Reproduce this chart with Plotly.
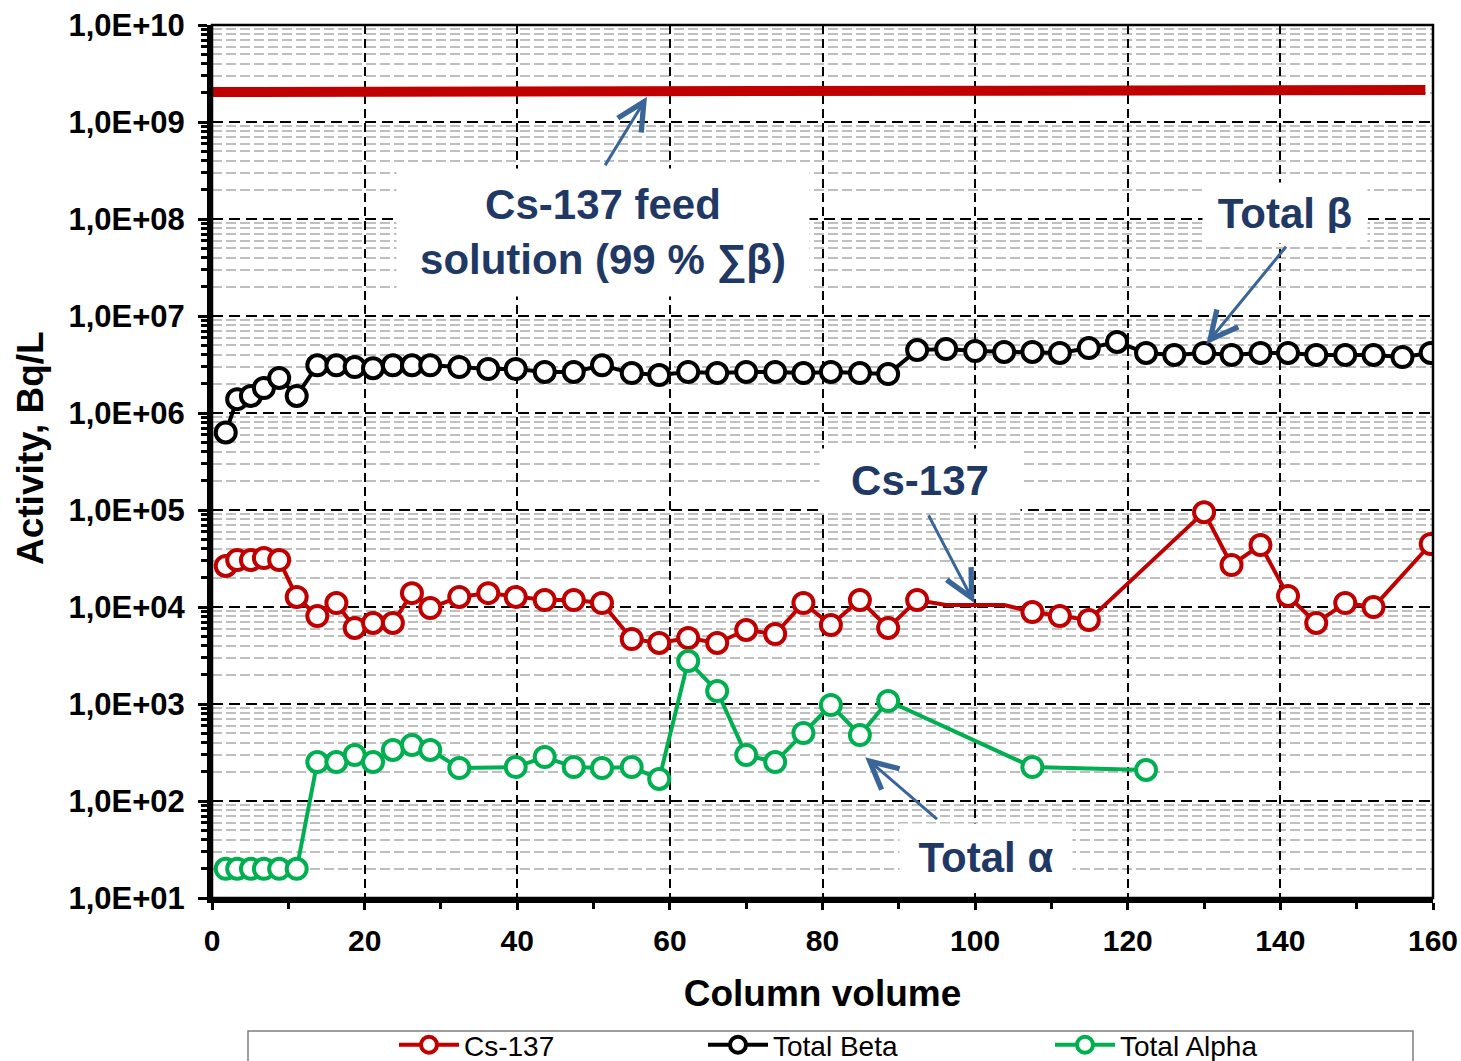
import plotly.graph_objects as go

# ---------------- data ----------------
cv_cs = [1.8, 3.3, 5.1, 6.8, 8.8, 11.1, 13.8, 16.3, 18.7, 21.1, 23.7, 26.2, 28.6,
         32.4, 36.2, 39.8, 43.6, 47.4, 51.1, 55.0, 58.6, 62.4, 66.2, 70.0, 73.8,
         77.5, 81.1, 84.9, 88.6, 92.4, 107.5, 111.1, 114.9, 130.0, 133.6, 137.4,
         141.0, 144.7, 148.5, 152.2, 159.7]
cs137 = [2.65e4, 3.05e4, 3.05e4, 3.2e4, 3.05e4, 1.27e4, 8.07e3, 1.1e4, 6.08e3,
         6.85e3, 6.85e3, 1.39e4, 9.77e3, 1.27e4, 1.39e4, 1.27e4, 1.18e4, 1.18e4,
         1.1e4, 4.68e3, 4.26e3, 4.79e3, 4.26e3, 5.8e3, 5.27e3, 1.1e4, 6.52e3,
         1.18e4, 6.08e3, 1.18e4, 8.87e3, 8.07e3, 7.35e3, 9.5e4, 2.71e4, 4.35e4,
         1.3e4, 6.85e3, 1.1e4, 1.0e4, 4.46e4]
# Cs-137 points drawn without a marker (flat stretch of the line)
cv_cs_unmarked = [96.2, 100.0, 103.8]
cs137_unmarked = [1.05e4, 1.05e4, 1.05e4]

cv_beta = [1.8, 3.3, 5.1, 6.8, 8.8, 11.1, 13.8, 16.3, 18.7, 21.1, 23.7, 26.2, 28.6,
           32.4, 36.2, 39.8, 43.6, 47.4, 51.1, 55.0, 58.6, 62.4, 66.2, 70.0, 73.8,
           77.5, 81.1, 84.9, 88.6, 92.4, 96.2, 100.0, 103.8, 107.5, 111.1, 114.9,
           118.6, 122.4, 126.1, 130.0, 133.6, 137.4, 141.0, 144.7, 148.5, 152.2,
           156.0, 159.7]
total_beta = [6.3e5, 1.39e6, 1.5e6, 1.81e6, 2.3e6, 1.5e6, 3.1e6, 3.1e6, 2.98e6,
              2.9e6, 3.1e6, 3.1e6, 3.1e6, 2.98e6, 2.84e6, 2.84e6, 2.65e6, 2.65e6,
              3.1e6, 2.58e6, 2.46e6, 2.65e6, 2.58e6, 2.65e6, 2.65e6, 2.58e6, 2.65e6,
              2.58e6, 2.52e6, 4.45e6, 4.57e6, 4.36e6, 4.26e6, 4.26e6, 4.16e6, 4.68e6,
              5.4e6, 4.16e6, 3.97e6, 4.16e6, 3.97e6, 4.16e6, 4.16e6, 3.97e6, 3.97e6,
              3.97e6, 3.78e6, 4.16e6]

cv_alpha = [1.8, 3.3, 5.1, 6.8, 8.8, 11.1, 13.8, 16.3, 18.7, 21.1, 23.7, 26.2, 28.6,
            32.4, 39.8, 43.6, 47.4, 51.1, 55.0, 58.6, 62.4, 66.2, 70.0, 73.8, 77.5,
            81.1, 84.9, 88.6, 107.5, 122.4]
total_alpha = [20, 20, 20, 20, 20, 20, 252, 252, 298, 252, 336, 378, 336, 219, 224,
               284, 224, 219, 224, 169, 2770, 1360, 298, 252, 502, 977, 479, 1074,
               224, 209]

feed_cv = [0, 159]
feed_activity = [2.04e9, 2.14e9]

x_ticks = [0, 20, 40, 60, 80, 100, 120, 140, 160]
y_exponents = [1, 2, 3, 4, 5, 6, 7, 8, 9, 10]
y_tick_text = ["1,0E+01", "1,0E+02", "1,0E+03", "1,0E+04", "1,0E+05",
               "1,0E+06", "1,0E+07", "1,0E+08", "1,0E+09", "1,0E+10"]

# ---------------- style ----------------
FONT = "Liberation Sans, Arial, sans-serif"
RED = "#C00000"
GREEN = "#00B050"
BLACK = "#000000"
NAVY = "#1F3864"
ARROW = "#3A6598"
MARKER_SIZE = 20

W, H = 1461, 1061
L, R, T, B = 212, 28, 25, 163
PW, PH = W - L - R, H - T - B


def paper_x(px):
    return (px - L) / PW


def paper_y(py):
    return (H - B - py) / PH


y_tick_vals = [10 ** e for e in y_exponents]
y_minor_vals = [k * 10 ** e for e in y_exponents[:-1] for k in range(2, 10)]

# merge marked and unmarked Cs-137 points in x order
cs_points = sorted([(x, y, MARKER_SIZE) for x, y in zip(cv_cs, cs137)] +
                   [(x, y, 0) for x, y in zip(cv_cs_unmarked, cs137_unmarked)])
cs_x = [p[0] for p in cs_points]
cs_y = [p[1] for p in cs_points]
cs_sizes = [p[2] for p in cs_points]

fig = go.Figure()

fig.add_trace(go.Scatter(x=feed_cv, y=feed_activity, mode="lines",
                         line=dict(color=RED, width=10),
                         showlegend=False, hoverinfo="skip"))


def series(x, y, name, color, legend, sizes=MARKER_SIZE):
    return go.Scatter(
        x=x, y=y, name=name, mode="lines+markers",
        line=dict(color=color, width=4),
        marker=dict(symbol="circle", size=sizes, color="white", opacity=1,
                    line=dict(color=color, width=4)),
        legend=legend,
    )


fig.add_trace(series(cv_beta, total_beta, "Total Beta", BLACK, "legend2"))
fig.add_trace(series(cs_x, cs_y, "Cs-137", RED, "legend", cs_sizes))
fig.add_trace(series(cv_alpha, total_alpha, "Total Alpha", GREEN, "legend3"))

legend_common = dict(orientation="h", bgcolor="rgba(0,0,0,0)", borderwidth=0,
                     font=dict(family=FONT, size=28, color=BLACK),
                     itemwidth=60, itemsizing="trace",
                     xanchor="left", yanchor="middle",
                     y=paper_y(1045))

ann_font = dict(family=FONT, size=42, color=NAVY, weight="bold")


def label(text, x, y, w, h):
    return dict(text=text, x=x, y=y, xref="x", yref="y", showarrow=False,
                font=ann_font, bgcolor="white", width=w, height=h, borderpad=10,
                align="center")


def arrow(x, y, ax, ay):
    return dict(text="", x=x, y=y, ax=ax, ay=ay, xref="x", yref="y",
                axref="x", ayref="y", showarrow=True, arrowhead=5,
                arrowsize=1.8, arrowwidth=3, arrowcolor=ARROW, standoff=0)


annotations = [
    label("Cs-137 feed<br>solution (99 % \u2211\u03b2)", 51.2, 7.866, 392, 107),
    label("Total \u03b2", 140.6, 8.06, 144, 40),
    label("Cs-137", 92.8, 5.31, 180, 42),
    label("Total \u03b1", 101.4, 1.42, 152, 46),
    arrow(57.0, 9.26, 51.4, 8.54),
    arrow(130.3, 6.71, 140.9, 7.73),
    arrow(99.9, 4.04, 93.8, 4.96),
    arrow(85.6, 2.45, 95.2, 1.80),
    # y-axis title
    dict(text="Activity, Bq/L", textangle=-90, showarrow=False,
         xref="paper", yref="paper", x=paper_x(30), y=paper_y(448),
         xanchor="center", yanchor="middle",
         font=dict(family=FONT, size=37, color=BLACK, weight="bold")),
]

fig.update_layout(
    width=W, height=H,
    margin=dict(l=L, r=R, t=T, b=B, autoexpand=False),
    paper_bgcolor="white", plot_bgcolor="white",
    font=dict(family=FONT, color=BLACK),
    legend=dict(legend_common, x=paper_x(394)),
    legend2=dict(legend_common, x=paper_x(703)),
    legend3=dict(legend_common, x=paper_x(1050)),
    annotations=annotations,
    shapes=[
        dict(type="rect", xref="paper", yref="paper", x0=0, x1=1, y0=0, y1=1,
             line=dict(color=BLACK, width=2.5), layer="above"),
        dict(type="rect", xref="paper", yref="paper",
             x0=paper_x(248), x1=paper_x(1413), y0=paper_y(1085), y1=paper_y(1031),
             line=dict(color="#7F7F7F", width=1.5), layer="above"),
    ],
    xaxis=dict(
        range=[0, 160], tickmode="array", tickvals=x_ticks,
        showline=True, linewidth=5, linecolor=BLACK,
        ticks="outside", ticklen=7, tickwidth=3, tickcolor=BLACK,
        tickfont=dict(family=FONT, size=30, color=BLACK, weight="bold"),
        ticklabelstandoff=5,
        showgrid=True, gridcolor=BLACK, gridwidth=2, griddash="9px,5px",
        zeroline=False,
        minor=dict(dtick=10, ticks="outside", ticklen=6, tickwidth=3,
                   tickcolor=BLACK, showgrid=False),
        title=dict(text="Column volume",
                   font=dict(family=FONT, size=37, color=BLACK, weight="bold"),
                   standoff=26),
        automargin=False,
    ),
    yaxis=dict(
        type="log", range=[1, 10], tickmode="array", tickvals=y_tick_vals,
        ticktext=y_tick_text,
        showline=True, linewidth=5, linecolor=BLACK,
        ticks="outside", ticklen=9, tickwidth=3, tickcolor=BLACK,
        tickfont=dict(family=FONT, size=31, color=BLACK, weight="bold"),
        ticklabelstandoff=7,
        showgrid=True, gridcolor=BLACK, gridwidth=2, griddash="11px,6px",
        zeroline=False,
        minor=dict(tickmode="array", tickvals=y_minor_vals, ticks="outside",
                   ticklen=6, tickwidth=2.5, tickcolor=BLACK,
                   showgrid=True, gridcolor="#BFBFBF", gridwidth=2,
                   griddash="10px,4px"),
        automargin=False,
    ),
)

fig.write_html("out.html", config={"displayModeBar": False},
               post_script="document.body.style.margin='0px';")
